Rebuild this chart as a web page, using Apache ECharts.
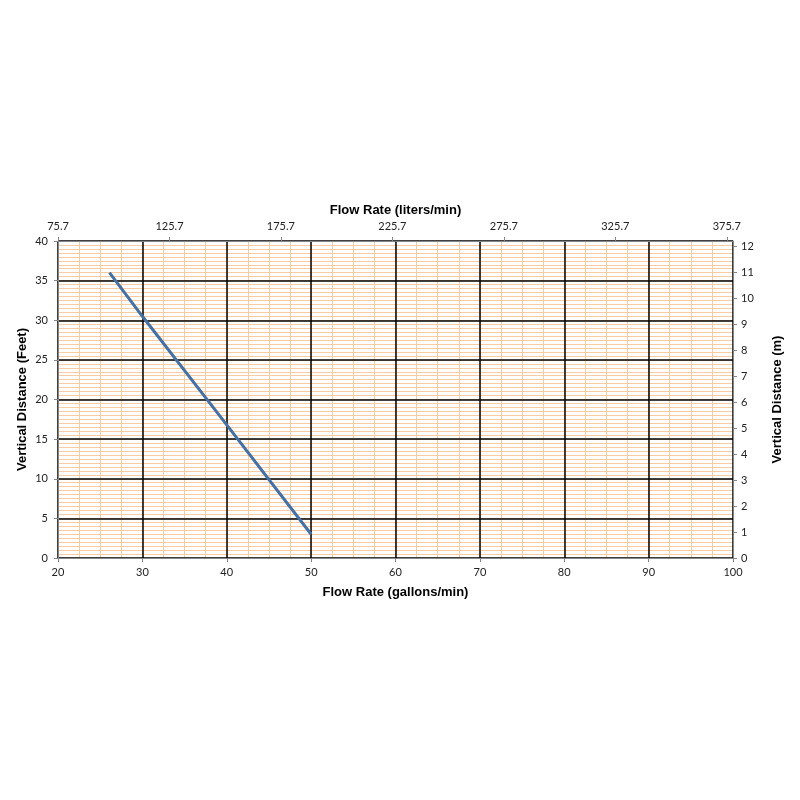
<!DOCTYPE html>
<html>
<head>
<meta charset="utf-8">
<script src="https://cdn.jsdelivr.net/npm/echarts@6/dist/echarts.min.js"></script>
<style>html,body{margin:0;padding:0;background:#fff}#c{width:800px;height:800px}</style>
</head>
<body>
<div id="c"></div>
<script>
// Data
var flowGal = [26.1, 30, 40, 50];
var distFeet = [36, 30.5, 16.8, 3];
var galRange = [20, 100];
var feetRange = [0, 40];
var litersRange = [75.7, 378.5];
var metersRange = [0, 12.192];

var chart = echarts.init(document.getElementById('c'));
var linePoints = flowGal.map(function (g, i) { return [g, distFeet[i]]; });

function tickFont(extra) { return Object.assign({ fontFamily: 'Lato', fontSize: 11, color: '#222' }, extra || {}); }
function nameFont() { return { fontFamily: 'Liberation Sans', fontSize: 13, fontWeight: 'bold', color: '#000' }; }
function axisGray() { return { show: true, onZero: false, lineStyle: { color: '#868686', width: 1 } }; }
function tickGray() { return { show: true, length: 4, lineStyle: { color: '#868686', width: 1 } }; }
function majorGrid() { return { show: true, lineStyle: { color: '#000', width: 1.5, type: 'solid' } }; }
function minorGrid() { return { show: true, lineStyle: { color: '#F8CBA0', width: 1, type: 'solid' } }; }
function noGrid() { return { show: false }; }
function hidden() { return { show: false }; }
function hiddenLine() { return { show: false, onZero: false }; }

chart.setOption({
  animation: false,
  backgroundColor: '#fff',
  grid: { left: 58, right: 67, top: 241, bottom: 242, containLabel: false },
  xAxis: [
    { type: 'value', position: 'bottom', min: galRange[0], max: galRange[1], interval: 10, z: 3,
      name: 'Flow Rate (gallons/min)', nameLocation: 'middle', nameGap: 28, nameMoveOverlap: false, nameTextStyle: nameFont(),
      axisLine: axisGray(), axisTick: tickGray(), axisLabel: tickFont({ margin: 9 }),
      splitLine: majorGrid(), minorTick: hidden(), minorSplitLine: hidden() },
    { type: 'value', position: 'top', min: litersRange[0], max: litersRange[1], interval: 50, z: 3,
      name: 'Flow Rate (liters/min)', nameLocation: 'middle', nameGap: 24, nameMoveOverlap: false, nameTextStyle: nameFont(),
      axisLine: axisGray(), axisTick: tickGray(),
      axisLabel: tickFont({ margin: 9, showMaxLabel: false, formatter: function (v) { return v.toFixed(1); } }),
      splitLine: noGrid(), minorTick: hidden(), minorSplitLine: hidden() },
    { type: 'value', position: 'bottom', min: galRange[0], max: galRange[1], interval: 2.5, z: 0,
      axisLine: hiddenLine(), axisTick: hidden(), axisLabel: hidden(),
      splitLine: minorGrid(), minorTick: hidden(), minorSplitLine: hidden() }
  ],
  yAxis: [
    { type: 'value', position: 'left', min: feetRange[0], max: feetRange[1], interval: 5, z: 3,
      name: 'Vertical Distance (Feet)', nameLocation: 'middle', nameGap: 29, nameMoveOverlap: false, nameRotate: 90, nameTextStyle: nameFont(),
      axisLine: axisGray(), axisTick: tickGray(), axisLabel: tickFont({ margin: 10 }),
      splitLine: majorGrid(), minorTick: hidden(), minorSplitLine: hidden() },
    { type: 'value', position: 'right', min: metersRange[0], max: metersRange[1], interval: 1, z: 3,
      name: 'Vertical Distance (m)', nameLocation: 'middle', nameGap: 38, nameMoveOverlap: false, nameRotate: 90, nameTextStyle: nameFont(),
      axisLine: axisGray(), axisTick: tickGray(),
      axisLabel: tickFont({ margin: 8, showMaxLabel: false }),
      splitLine: noGrid(), minorTick: hidden(), minorSplitLine: hidden() },
    { type: 'value', position: 'left', min: feetRange[0], max: feetRange[1], interval: 0.5, z: 0,
      axisLine: hiddenLine(), axisTick: hidden(), axisLabel: hidden(),
      splitLine: minorGrid(), minorTick: hidden(), minorSplitLine: hidden() }
  ],
  series: [
    { type: 'line', xAxisIndex: 0, yAxisIndex: 0, data: linePoints, showSymbol: false, symbol: 'none',
      z: 5, lineStyle: { color: '#4470A6', width: 3 } }
  ]
});
</script>
</body>
</html>
